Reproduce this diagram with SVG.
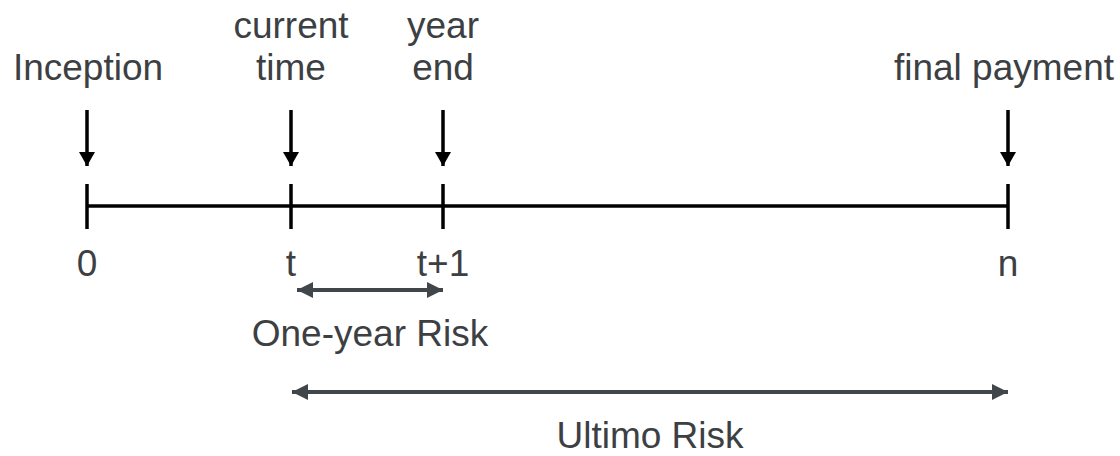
<svg xmlns="http://www.w3.org/2000/svg" width="1120" height="456" viewBox="0 0 1120 456">
<defs>
<style>
.lbl{font-family:"Liberation Sans",Arial,sans-serif;font-size:37px;fill:#3c4043;text-anchor:middle}
.axis{stroke:#000;stroke-width:3.5;fill:none}
.down{stroke:#000;stroke-width:3.5;fill:none}
.span{stroke:#41464b;stroke-width:4;fill:none}
</style>
<marker id="ah" viewBox="0 0 14 16" refX="14" refY="8" markerWidth="14" markerHeight="16" orient="auto" markerUnits="userSpaceOnUse">
<path d="M0,0 L14,8 L0,16 z" fill="#000"/>
</marker>
<marker id="gh" viewBox="0 0 16 16" refX="16" refY="8" markerWidth="16" markerHeight="16" orient="auto-start-reverse" markerUnits="userSpaceOnUse">
<path d="M0,0 L16,8 L0,16 z" fill="#41464b"/>
</marker>
</defs>
<g id="connectors">
<line class="axis" x1="87" y1="206" x2="1008" y2="206"/>
<line class="down" x1="87" y1="110" x2="87" y2="166" marker-end="url(#ah)"/>
<line class="down" x1="291" y1="110" x2="291" y2="166" marker-end="url(#ah)"/>
<line class="down" x1="443" y1="110" x2="443" y2="166" marker-end="url(#ah)"/>
<line class="down" x1="1008" y1="110" x2="1008" y2="166" marker-end="url(#ah)"/>
<line class="span" x1="297" y1="290" x2="443" y2="290" marker-start="url(#gh)" marker-end="url(#gh)"/>
<line class="span" x1="292" y1="392" x2="1008" y2="392" marker-start="url(#gh)" marker-end="url(#gh)"/>
</g>
<g id="tick-0"><line class="axis" x1="87" y1="184" x2="87" y2="229"/><text class="lbl" x="87" y="276">0</text></g>
<g id="tick-t"><line class="axis" x1="291" y1="184" x2="291" y2="229"/><text class="lbl" x="291" y="276">t</text></g>
<g id="tick-t1"><line class="axis" x1="443" y1="184" x2="443" y2="229"/><text class="lbl" x="443" y="276">t+1</text></g>
<g id="tick-n"><line class="axis" x1="1008" y1="184" x2="1008" y2="229"/><text class="lbl" x="1008" y="276">n</text></g>
<g id="inception"><text class="lbl" x="88" y="80">Inception</text></g>
<g id="current-time"><text class="lbl" x="291" y="38">current</text><text class="lbl" x="291" y="80">time</text></g>
<g id="year-end"><text class="lbl" x="443" y="38">year</text><text class="lbl" x="443" y="80">end</text></g>
<g id="final-payment"><text class="lbl" x="1004" y="80">final payment</text></g>
<g id="one-year-risk"><text class="lbl" x="370" y="346">One-year Risk</text></g>
<g id="ultimo-risk"><text class="lbl" x="650" y="448">Ultimo Risk</text></g>
</svg>
